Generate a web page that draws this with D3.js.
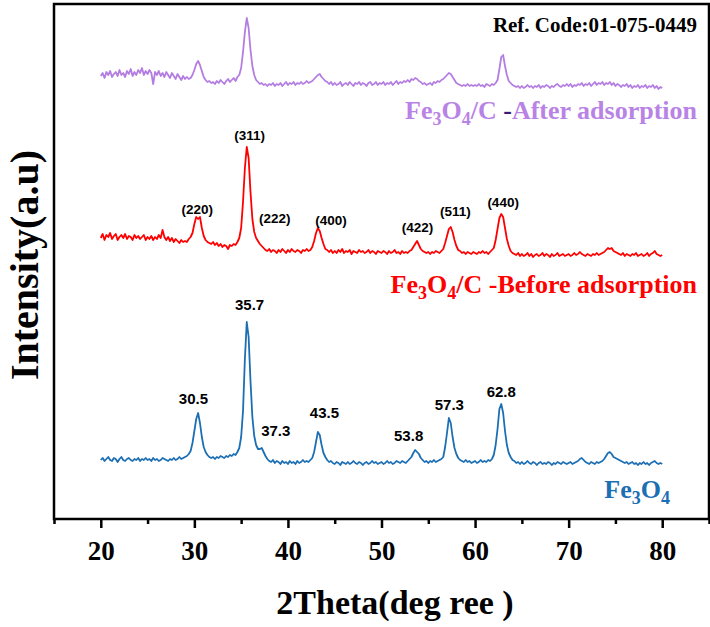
<!DOCTYPE html>
<html>
<head>
<meta charset="utf-8">
<title>XRD Fe3O4</title>
<style>
    body { margin: 0; background: white; }
    text { font-family: "Liberation Serif", "Times New Roman", serif; font-weight: bold; }
    .peak { font-family: "Liberation Sans", Arial, sans-serif; }
</style>
</head>
<body>
<div id="chart"></div>
<script src="https://cdn.jsdelivr.net/npm/d3@7/dist/d3.min.js"></script>
<script>
    // 2theta grid, 20 -> 80 step 0.2
    let theta = d3.range(0, 301).map(i => +(20 + i * 0.2).toFixed(1))

    // intensities (a.u.), one row per 5 degrees
    let fe3o4 = [
        9,11,8,10,12, 9,8,11,10,7, 10,12,9,8,10, 11,9,8,10,9, 11,8,10,9,11,
        9,10,8,11,9, 10,8,9,11,10, 9,8,10,9,11, 9,10,12,10,11, 12,13,15,18,26,
        38,50,56,46,32, 22,17,14,12,11, 12,10,12,11,13, 12,11,13,12,14, 13,15,14,17,21,
        32,58,110,147,132, 88,52,33,24,20, 20,21,17,13,10, 8,7,9,6,8, 7,5,8,6,7,
        5,8,6,7,5, 8,6,7,9,7, 8,7,9,11,17, 27,37,34,24,16, 12,9,7,8,6,
        5,7,6,4,7, 6,5,7,5,6, 8,6,5,7,6, 4,6,7,5,6, 8,6,7,5,6,
        7,5,6,8,6, 7,5,6,8,7, 6,8,7,6,8, 10,12,16,19,17, 15,11,9,7,8,
        6,8,7,9,7, 8,9,10,12,22, 36,51,46,32,21, 15,11,9,8,7, 9,7,8,6,7,
        8,6,7,9,7, 8,7,9,8,10, 14,24,40,60,65, 56,38,24,16,12, 9,8,6,7,5,
        7,5,6,8,6, 5,7,6,4,6, 7,5,6,5,7, 6,4,6,5,7, 6,5,7,6,5,
        6,7,5,6,7, 8,10,11,9,7, 6,5,7,6,5, 7,6,7,8,10, 13,16,17,15,12,
        11,10,9,8,7, 6,7,5,6,7, 5,6,4,6,5, 7,5,6,4,6, 7,8,6,5,6,
        5
    ]
    let beforeAds = [
        26,30,24,29,27, 31,25,28,30,24, 27,29,26,30,25, 28,27,24,29,26, 28,25,27,29,24,
        27,25,28,24,27, 25,29,26,34,27, 24,27,23,26,22, 25,23,21,24,22, 23,22,25,27,31,
        40,47,45,47,36, 28,24,22,21,20, 22,19,21,18,20, 17,19,18,15,19, 18,20,19,22,26,
        36,62,96,117,106, 72,45,32,26,23, 20,18,16,14,13, 15,12,14,13,11, 14,12,15,13,11,
        14,12,15,13,12, 14,13,11,14,13, 15,13,14,17,23, 31,36,33,26,20, 15,14,12,14,11,
        13,11,14,12,15, 11,13,12,14,10, 13,12,11,14,12, 13,11,12,14,11, 13,12,10,13,12,
        11,13,12,10,13, 11,12,14,11,12, 10,13,11,12,11, 13,14,17,20,23, 19,15,13,12,11,
        12,10,12,11,13, 12,11,13,15,21, 28,35,37,32,24, 18,14,13,11,12, 10,12,11,10,12,
        11,10,12,11,13, 11,12,10,12,14, 16,24,35,46,50, 47,36,25,18,13, 11,10,9,11,8,
        10,8,9,11,8, 10,7,9,10,8, 9,11,8,10,9, 7,10,8,9,11, 8,9,10,8,9,
        10,8,9,11,9, 10,12,10,9,8, 10,9,8,10,9, 11,9,10,11,12, 14,16,15,16,13,
        12,11,10,9,11, 8,10,9,8,10, 9,11,8,9,10, 8,9,11,8,10, 11,13,10,9,8,
        9
    ]
    let afterAds = [
        18,21,16,22,19, 23,17,20,22,18, 24,19,21,17,23, 20,25,18,22,19, 24,21,26,19,23,
        20,24,21,10,22, 19,23,18,21,17, 22,19,16,21,18, 15,20,17,14,18, 15,17,15,16,19,
        24,30,33,29,23, 17,14,12,13,11, 12,10,13,11,14, 12,10,13,15,12, 14,16,13,17,19,
        26,42,62,76,66, 44,28,19,14,12, 10,11,9,10,8, 10,9,11,8,10, 9,11,8,10,12,
        9,11,10,12,9, 11,10,12,10,11, 13,11,12,13,15, 17,19,20,17,15, 13,12,10,12,9,
        11,9,10,12,8, 10,11,9,12,10, 8,11,10,12,9, 11,10,8,11,12, 9,10,12,9,11,
        10,12,9,11,10, 12,9,11,13,10, 12,11,13,12,14, 12,15,14,16,15, 13,12,10,11,9,
        10,11,9,12,11, 13,12,14,15,17, 19,21,20,17,14, 11,10,9,8,9, 8,10,8,9,8,
        9,8,10,8,9, 7,10,9,8,10, 9,11,14,25,37, 39,28,19,13,11, 9,8,7,8,6,
        8,6,7,9,7, 8,6,8,7,9, 6,8,7,9,8, 6,8,7,9,10, 8,7,9,8,10,
        8,10,7,9,8, 10,9,11,8,10, 9,11,8,10,12, 9,11,10,12,9, 11,10,12,9,11,
        8,10,9,7,9, 8,10,7,9,6, 8,7,9,6,8, 7,9,6,8,7, 9,6,8,5,7,
        6
    ]

    // vertical stacking of the three patterns
    let offsets = [50, 255, 425]
    let colors = ["#1c6fb3", "#ff0000", "#b47de1"]

    let xTicks = [20, 30, 40, 50, 60, 70, 80]
    let xMinor = [15, 25, 35, 45, 55, 65, 75, 85]

    let labels1 = ["30.5", "35.7", "37.3", "43.5", "53.8", "57.3", "62.8"]
    let labels1X = [29.9, 35.9, 38.7, 43.9, 52.9, 57.25, 62.8]
    let labels1Y = [65, 159, 33, 51, 28, 59, 72]

    let labels2 = ["(220)", "(311)", "(222)", "(400)", "(422)", "(511)", "(440)"]
    let labels2X = [30.3, 35.9, 38.6, 44.6, 53.85, 57.9, 63.0]
    let labels2Y = [50, 124, 41, 39, 32, 48, 57]

    let width = 710, height = 627
    let padL = 54, padT = 4, padR = 709, padB = 519

    let svg = d3.select("#chart")
        .append("svg")
        .attr("width", width)
        .attr("height", height)

    let x = d3.scaleLinear().domain([15, 85]).range([padL, padR])
    let y = d3.scaleLinear().domain([0, padB - padT]).range([padB, padT])

    let series = [fe3o4, beforeAds, afterAds]

    let line = d3.line()
        .x(d => x(d[0]))
        .y(d => y(d[1]))

    series.forEach(function(s, k){
        let pts = theta.map((t, i) => [t, s[i] + offsets[k]])
        svg.append("path")
            .attr("d", line(pts))
            .attr("fill", "none")
            .attr("stroke", colors[k])
            .attr("stroke-width", 1.8)
            .attr("stroke-linejoin", "round")
    })

    // frame
    svg.append("rect")
        .attr("x", padL)
        .attr("y", padT)
        .attr("width", padR - padL)
        .attr("height", padB - padT)
        .attr("fill", "none")
        .attr("stroke", "black")
        .attr("stroke-width", 2.5)

    // x axis
    let xAxis = svg.append("g")
        .attr("transform", "translate(0," + padB + ")")
        .call(d3.axisBottom(x).tickValues(xTicks).tickSize(9).tickFormat(d3.format("d")))
    xAxis.select(".domain").remove()
    xAxis.selectAll(".tick line").attr("stroke", "black").attr("stroke-width", 2.5)
    xAxis.selectAll(".tick text")
        .attr("y", 41)
        .attr("dy", null)
        .attr("fill", "black")
        .style("font-family", "'Liberation Serif', serif")
        .style("font-weight", "bold")
        .style("font-size", "27px")

    let xAxisMinor = svg.append("g")
        .attr("transform", "translate(0," + padB + ")")
        .call(d3.axisBottom(x).tickValues(xMinor).tickSize(5).tickFormat(""))
    xAxisMinor.select(".domain").remove()
    xAxisMinor.selectAll(".tick line").attr("stroke", "black").attr("stroke-width", 2.5)

    // axis titles
    svg.append("text")
        .attr("x", 395)
        .attr("y", 614)
        .attr("text-anchor", "middle")
        .attr("font-size", 34)
        .attr("xml:space", "preserve")
        .text("2Theta(deg ree )")

    svg.append("text")
        .attr("transform", "translate(38,265) rotate(-90)")
        .attr("text-anchor", "middle")
        .attr("font-size", 40)
        .text("Intensity(a.u)")

    // peak labels
    svg.selectAll(".p1")
        .data(labels1)
        .enter()
        .append("text")
        .attr("class", "peak")
        .attr("x", (d, i) => x(labels1X[i]))
        .attr("y", (d, i) => y(labels1Y[i] + offsets[0]))
        .attr("text-anchor", "middle")
        .attr("font-size", 15)
        .text(d => d)

    svg.selectAll(".p2")
        .data(labels2)
        .enter()
        .append("text")
        .attr("class", "peak")
        .attr("x", (d, i) => x(labels2X[i]))
        .attr("y", (d, i) => y(labels2Y[i] + offsets[1]))
        .attr("text-anchor", "middle")
        .attr("font-size", 13.5)
        .text(d => d)

    // series names with subscripts
    function formula(t, color){
        t.append("tspan").attr("fill", color).text("Fe")
        t.append("tspan").attr("fill", color).attr("font-size", 18).attr("dy", 6).text("3")
        t.append("tspan").attr("fill", color).attr("dy", -6).text("O")
        t.append("tspan").attr("fill", color).attr("font-size", 18).attr("dy", 6).text("4")
    }

    let t3 = svg.append("text").attr("x", 697).attr("y", 119).attr("text-anchor", "end").attr("font-size", 26)
    formula(t3, "#b983e6")
    t3.append("tspan").attr("fill", "#b983e6").attr("dy", -6).attr("xml:space", "preserve").text("/C ")
    t3.append("tspan").attr("fill", "#3c1878").text("-")
    t3.append("tspan").attr("fill", "#b983e6").text("After adsorption")

    let t2 = svg.append("text").attr("x", 697).attr("y", 293).attr("text-anchor", "end").attr("font-size", 26)
    formula(t2, "#ff0000")
    t2.append("tspan").attr("fill", "#ff0000").attr("dy", -6).text("/C -Before adsorption")

    let t1 = svg.append("text").attr("x", 670).attr("y", 498).attr("text-anchor", "end").attr("font-size", 26)
    formula(t1, "#1c6fb3")

    svg.append("text")
        .attr("x", 697)
        .attr("y", 32)
        .attr("text-anchor", "end")
        .attr("font-size", 21)
        .text("Ref. Code:01-075-0449")
</script>
</body>
</html>
